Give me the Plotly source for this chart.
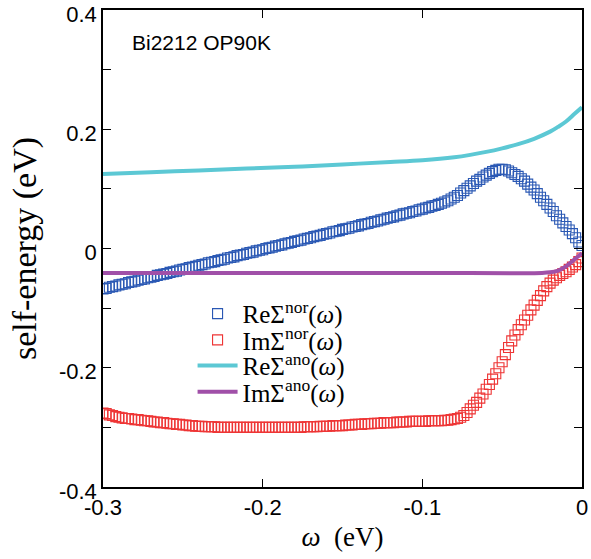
import plotly.graph_objects as go

# energy grid of the measured points (eV), -0.300 ... 0.000 step 0.002
omega = [round(-0.300 + 0.002 * i, 3) for i in range(151)]

re_nor = [
    -0.068, -0.067, -0.065, -0.064, -0.063, -0.061, -0.060, -0.059, -0.057, -0.056,
    -0.055, -0.053, -0.052, -0.051, -0.049, -0.048, -0.047, -0.045, -0.044, -0.043,
    -0.042, -0.040, -0.039, -0.038, -0.036, -0.035, -0.034, -0.032, -0.031, -0.030,
    -0.028, -0.027, -0.026, -0.024, -0.023, -0.022, -0.020, -0.019, -0.018, -0.016,
    -0.015, -0.014, -0.012, -0.011, -0.010, -0.008, -0.007, -0.006, -0.004, -0.003,
    -0.002, 0.000, 0.001, 0.002, 0.004, 0.005, 0.006, 0.008, 0.009, 0.010,
    0.012, 0.013, 0.014, 0.016, 0.017, 0.018, 0.020, 0.021, 0.022, 0.024,
    0.025, 0.026, 0.028, 0.029, 0.030, 0.032, 0.033, 0.034, 0.036, 0.037,
    0.038, 0.040, 0.041, 0.042, 0.044, 0.045, 0.046, 0.048, 0.049, 0.051,
    0.052, 0.053, 0.055, 0.056, 0.058, 0.059, 0.060, 0.062, 0.063, 0.065,
    0.066, 0.068, 0.069, 0.071, 0.072, 0.074, 0.076, 0.078, 0.080, 0.083,
    0.086, 0.089, 0.093, 0.097, 0.101, 0.105, 0.109, 0.113, 0.116, 0.120,
    0.123, 0.126, 0.129, 0.131, 0.133, 0.133, 0.132, 0.130, 0.127, 0.124,
    0.121, 0.117, 0.113, 0.108, 0.103, 0.098, 0.092, 0.086, 0.080, 0.074,
    0.068, 0.062, 0.055, 0.049, 0.043, 0.037, 0.031, 0.025, 0.018, 0.011,
    0.005,
]

im_nor = [
    -0.276, -0.277, -0.279, -0.280, -0.282, -0.283, -0.284, -0.285, -0.285, -0.286,
    -0.287, -0.287, -0.288, -0.289, -0.289, -0.290, -0.291, -0.291, -0.292, -0.292,
    -0.293, -0.294, -0.294, -0.295, -0.295, -0.296, -0.296, -0.297, -0.297, -0.298,
    -0.298, -0.298, -0.299, -0.299, -0.299, -0.299, -0.300, -0.300, -0.300, -0.300,
    -0.300, -0.300, -0.300, -0.300, -0.300, -0.300, -0.300, -0.300, -0.300, -0.300,
    -0.300, -0.300, -0.300, -0.300, -0.300, -0.300, -0.300, -0.300, -0.300, -0.300,
    -0.300, -0.300, -0.300, -0.299, -0.299, -0.299, -0.299, -0.299, -0.298, -0.298,
    -0.298, -0.298, -0.297, -0.297, -0.297, -0.297, -0.296, -0.296, -0.296, -0.295,
    -0.295, -0.295, -0.294, -0.294, -0.294, -0.293, -0.293, -0.293, -0.292, -0.292,
    -0.292, -0.292, -0.291, -0.291, -0.291, -0.291, -0.290, -0.290, -0.290, -0.290,
    -0.290, -0.290, -0.289, -0.289, -0.289, -0.289, -0.289, -0.288, -0.288, -0.287,
    -0.286, -0.285, -0.283, -0.280, -0.275, -0.269, -0.263, -0.258, -0.251, -0.244,
    -0.236, -0.228, -0.219, -0.210, -0.200, -0.190, -0.178, -0.166, -0.155, -0.145,
    -0.136, -0.128, -0.120, -0.112, -0.103, -0.095, -0.087, -0.079, -0.071, -0.064,
    -0.058, -0.053, -0.049, -0.045, -0.042, -0.039, -0.035, -0.031, -0.027, -0.022,
    -0.016,
]

omega_re_ano = [-0.30, -0.27, -0.24, -0.21, -0.18, -0.15, -0.12, -0.10, -0.08, -0.07,
                -0.06, -0.05, -0.04, -0.03, -0.02, -0.015, -0.01, -0.005, 0.0]
re_ano = [0.125, 0.128, 0.131, 0.134, 0.137, 0.141, 0.145, 0.148, 0.153, 0.157,
          0.162, 0.168, 0.175, 0.184, 0.196, 0.204, 0.213, 0.225, 0.237]

omega_im_ano = [-0.30, -0.20, -0.10, -0.025, -0.02, -0.015, -0.01, -0.005, 0.0]
im_ano = [-0.041, -0.041, -0.041, -0.041, -0.040, -0.037, -0.030, -0.019, -0.008]

x_tickvals = [-0.3, -0.2, -0.1, 0.0]
x_ticktext = ["-0.3", "-0.2", "-0.1", "0"]
y_tickvals = [-0.4, -0.3, -0.2, -0.1, 0.0, 0.1, 0.2, 0.3, 0.4]
y_ticktext = ["-0.4", "", "-0.2", "", "0", "", "0.2", "", "0.4"]

legend_labels = ["ReΣ<sup>nor</sup>(<i>ω</i>)", "ImΣ<sup>nor</sup>(<i>ω</i>)",
                 "ReΣ<sup>ano</sup>(<i>ω</i>)", "ImΣ<sup>ano</sup>(<i>ω</i>)"]

BLUE = "#2a58b4"
RED = "#ee3535"
CYAN = "#5cc8d4"
PURPLE = "#a050a8"

fig = go.Figure()
fig.add_trace(go.Scatter(
    x=omega, y=re_nor, mode="markers",
    marker=dict(symbol="square-open", size=10, color=BLUE, line=dict(width=1.1)),
    name=legend_labels[0], legend="legend"))
fig.add_trace(go.Scatter(
    x=omega, y=im_nor, mode="markers",
    marker=dict(symbol="square-open", size=10, color=RED, line=dict(width=1.1)),
    name=legend_labels[1], legend="legend2"))
fig.add_trace(go.Scatter(
    x=omega_re_ano, y=re_ano, mode="lines", line=dict(color=CYAN, width=4, shape="spline"),
    name=legend_labels[2], legend="legend3"))
fig.add_trace(go.Scatter(
    x=omega_im_ano, y=im_ano, mode="lines", line=dict(color=PURPLE, width=4, shape="spline"),
    name=legend_labels[3], legend="legend4"))

axis_common = dict(
    showline=True, linecolor="black", linewidth=1.5, mirror="allticks",
    ticks="inside", ticklen=8, tickwidth=1, tickcolor="black",
    showgrid=False, zeroline=False, automargin=False, ticklabeloverflow="allow",
    tickfont=dict(family="Liberation Sans, Arial, sans-serif", size=22, color="black"),
)

fig.update_xaxes(range=[-0.3, 0.0], tickvals=x_tickvals, ticktext=x_ticktext,
                 title=dict(text="<i>ω</i>&nbsp;&nbsp;(eV)", standoff=8,
                            font=dict(family="Liberation Serif, Times New Roman, serif", size=27, color="black")),
                 **axis_common)
fig.update_yaxes(range=[-0.4, 0.4], tickvals=y_tickvals, ticktext=y_ticktext,
                 ticklabelshift=4,
                 title=dict(text="self-energy (eV)", standoff=12,
                            font=dict(family="Liberation Serif, Times New Roman, serif", size=34, color="black")),
                 **axis_common)

fig.add_annotation(text="Bi2212 OP90K", xref="paper", yref="paper", x=0.056, y=0.931,
                   xanchor="left", yanchor="middle", showarrow=False,
                   font=dict(family="Liberation Sans, Arial, sans-serif", size=21, color="black"))

legend_font = dict(family="Liberation Serif, Times New Roman, serif", size=25, color="black")
legend_rows_y = [0.363, 0.308, 0.254, 0.199]
legend_common = dict(x=0.187, xanchor="left", yanchor="middle", bgcolor="rgba(0,0,0,0)",
                     borderwidth=0, font=legend_font, itemwidth=40)

fig.update_layout(
    width=591, height=559,
    margin=dict(l=103, r=9, t=10, b=72),
    paper_bgcolor="white", plot_bgcolor="white",
    showlegend=True,
    legend=dict(y=legend_rows_y[0], **legend_common),
    legend2=dict(y=legend_rows_y[1], **legend_common),
    legend3=dict(y=legend_rows_y[2], **legend_common),
    legend4=dict(y=legend_rows_y[3], **legend_common),
)

fig.write_html("out.html")
